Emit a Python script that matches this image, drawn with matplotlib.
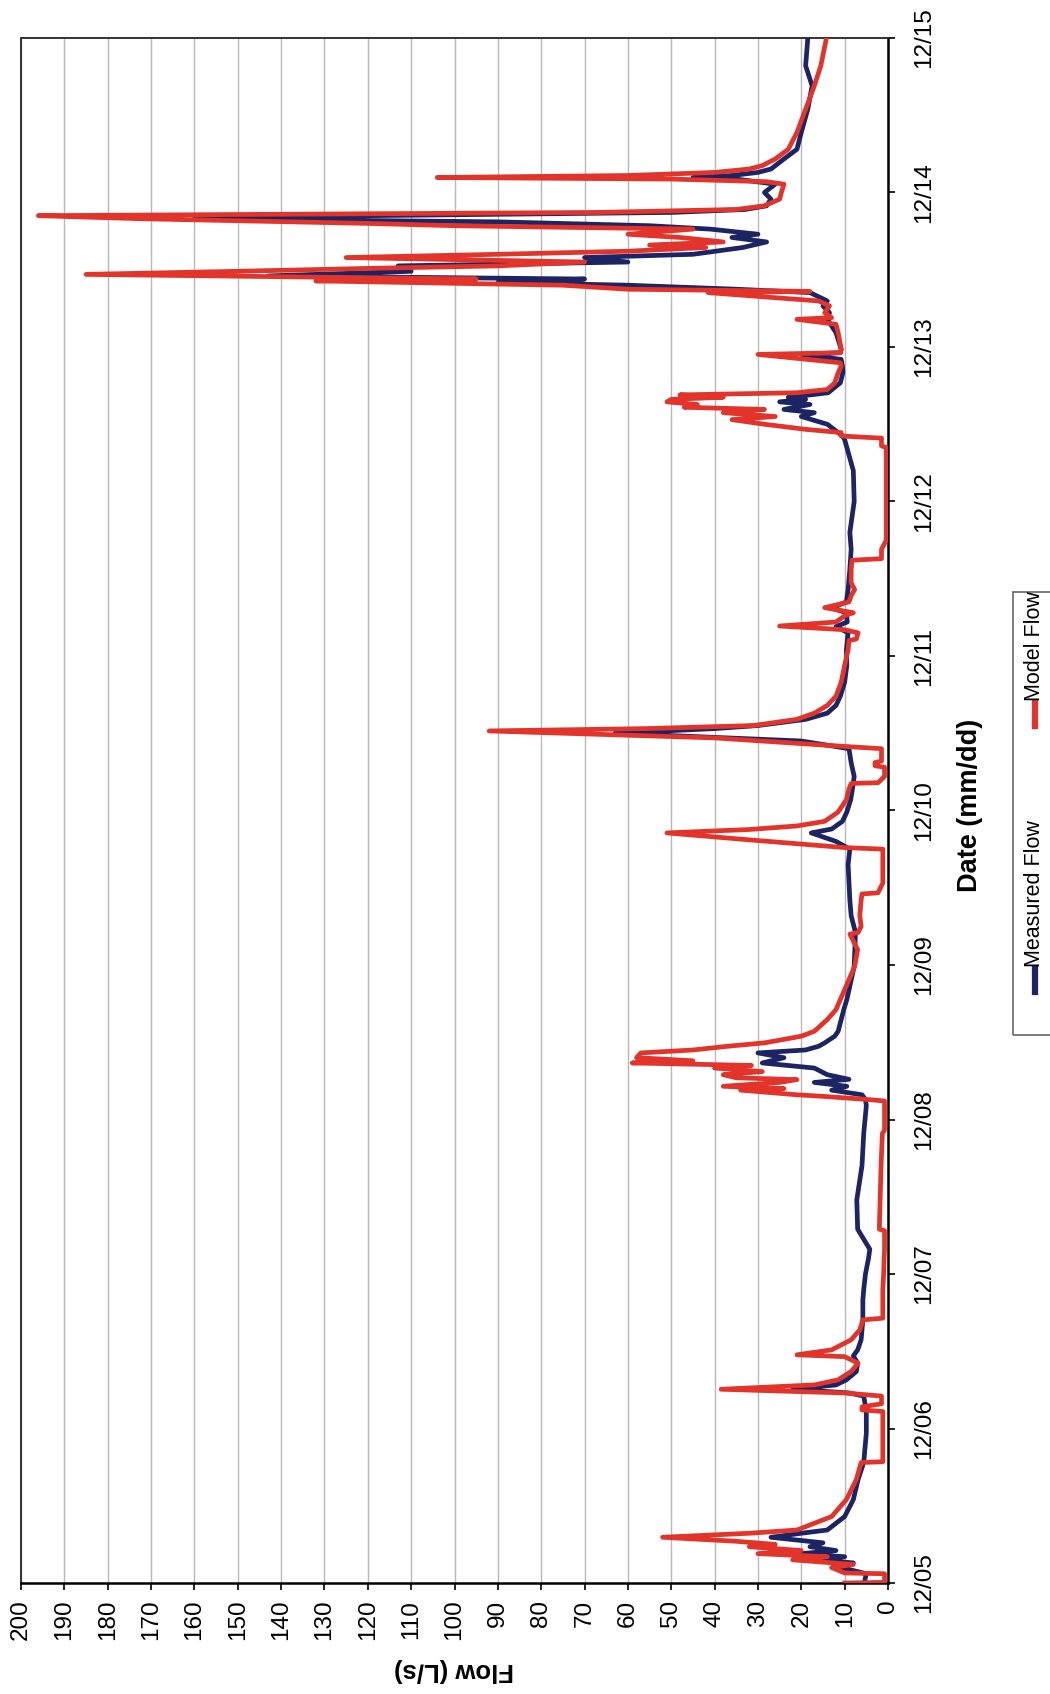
import matplotlib
matplotlib.use('Agg')
import matplotlib.pyplot as plt
from matplotlib.patches import Rectangle
from matplotlib.lines import Line2D

plt.rcParams['font.family'] = ['Liberation Sans', 'DejaVu Sans']

# time axis: days after 12/05 00:00
date_labels = ['12/05', '12/06', '12/07', '12/08', '12/09', '12/10',
               '12/11', '12/12', '12/13', '12/14', '12/15']
flow_ticks = list(range(0, 201, 10))

# Measured Flow (L/s)
t_meas = [0.0, 0.06, 0.10, 0.13, 0.15, 0.17, 0.19, 0.21, 0.235, 0.26, 0.296, 0.322, 0.343, 0.43, 0.54, 0.67, 0.78, 0.97,
          1.11, 1.21, 1.23, 1.254, 1.282, 1.315, 1.369, 1.423, 1.47, 1.509, 1.574, 1.703, 1.833, 1.9,
          2.0, 2.1, 2.16, 2.29, 2.48, 2.70, 2.91,
          3.09, 3.13, 3.16, 3.19, 3.215, 3.24, 3.26, 3.29, 3.333, 3.366, 3.40, 3.431, 3.45, 3.474, 3.496, 3.539, 3.571,
          3.647, 3.711, 3.776, 3.99,
          4.21, 4.32, 4.42, 4.53, 4.65, 4.75, 4.80, 4.855, 4.88, 4.93, 4.99,
          5.07, 5.14, 5.22, 5.31, 5.40, 5.45, 5.50, 5.53, 5.55, 5.59, 5.63, 5.68, 5.74, 5.83, 5.94,
          6.04, 6.15, 6.19, 6.22, 6.28, 6.31, 6.35, 6.43, 6.56, 6.69, 6.8,
          7.0, 7.2, 7.40, 7.424, 7.446, 7.50, 7.55, 7.575, 7.596, 7.628, 7.645, 7.661, 7.675, 7.693, 7.704, 7.768,
          7.833, 7.876, 7.92, 7.952, 7.963, 7.985,
          8.093, 8.179, 8.222, 8.266, 8.298, 8.352, 8.374, 8.40, 8.417, 8.44, 8.46, 8.49, 8.525, 8.55, 8.579, 8.60,
          8.644, 8.68, 8.709, 8.73, 8.763, 8.785, 8.81, 8.83, 8.85, 8.871, 8.89, 8.914, 8.957,
          9.0, 9.054, 9.087, 9.097, 9.11, 9.13, 9.152, 9.217, 9.28, 9.389, 9.54, 9.69, 9.82, 10.0]
q_meas = [5.5, 5.0, 10.8, 8, 16, 10, 20, 12, 18, 15, 27, 20, 14, 10, 8, 6.9, 5.6, 5.0,
          5.0, 5.6, 9, 22, 12, 9.6, 7.3, 7, 8, 7, 6.2, 5.8, 5.8, 5.6,
          5.2, 4.5, 4.2, 7.0, 7.2, 6.0, 5.6,
          5.0, 5.2, 6, 13, 9.5, 17, 9, 14, 17, 29, 24, 30, 19, 16, 14.6, 12.3, 11.5,
          10.8, 10.2, 9.5, 7.8,
          7.5, 8.5, 8.8, 9.0, 9.2, 8.8, 12, 17.7, 13, 10.5, 9.5,
          8.6, 8.2, 7.8, 8.5, 9, 20, 63, 40, 30, 19, 14, 12, 11, 10, 9.5,
          9.6, 9.2, 12, 9.4, 9.6, 13, 9.6, 9.2, 8.8, 8.5, 8.8,
          7.8, 8.0, 10.0, 10.5, 11.5, 14, 20, 17, 24, 18, 25, 19, 23, 17, 13.8, 11,
          10.4, 10.5, 10.8, 20, 11, 10.8,
          12, 14, 13.5, 15, 14, 18, 35, 60, 90, 70, 143, 110, 113, 60, 70, 45,
          33.5, 28, 36, 30, 41, 55, 90, 160, 120, 50, 33, 28, 27,
          28.5, 26, 35, 45, 36, 30, 27, 24, 21, 20, 18.5, 17.5, 19, 18.5]

# Model Flow (L/s)
t_model = [0.0, 0.004, 0.06, 0.065, 0.10, 0.12, 0.15, 0.17, 0.19, 0.21, 0.235, 0.25, 0.27, 0.296, 0.322, 0.343, 0.43,
           0.54, 0.67, 0.78, 0.785, 0.97,
           1.11, 1.12, 1.14, 1.16, 1.21, 1.23, 1.254, 1.282, 1.315, 1.369, 1.423, 1.465, 1.477, 1.509, 1.574, 1.639,
           1.703, 1.714, 1.833, 1.90,
           2.0, 2.1, 2.16, 2.28, 2.29, 2.5, 2.7, 2.91, 2.93,
           3.12, 3.13, 3.15, 3.16, 3.19, 3.20, 3.215, 3.24, 3.258, 3.27, 3.29, 3.31, 3.333, 3.35, 3.366, 3.38, 3.40,
           3.431, 3.45, 3.474, 3.496, 3.539, 3.571, 3.647, 3.711, 3.776, 3.99,
           4.1, 4.2, 4.21, 4.25, 4.32, 4.42, 4.46, 4.467, 4.53, 4.75, 4.76, 4.81, 4.855, 4.877, 4.90, 4.93, 4.99,
           5.07, 5.14, 5.175, 5.18, 5.22, 5.28, 5.29, 5.31, 5.32, 5.40, 5.42, 5.47, 5.515, 5.53, 5.55, 5.59, 5.63,
           5.68, 5.74, 5.83, 5.94,
           6.04, 6.10, 6.11, 6.15, 6.17, 6.194, 6.22, 6.26, 6.28, 6.313, 6.35, 6.39, 6.43, 6.475, 6.56, 6.62, 6.63,
           6.69, 6.75,
           7.35, 7.36, 7.41, 7.424, 7.446, 7.467, 7.50, 7.53, 7.55, 7.575, 7.596, 7.61, 7.628, 7.645, 7.661, 7.675,
           7.69, 7.704, 7.725, 7.768, 7.833, 7.876, 7.898, 7.952, 7.963, 7.985,
           8.093, 8.147, 8.179, 8.19, 8.222, 8.266, 8.298, 8.352, 8.36, 8.374, 8.40, 8.417, 8.428, 8.44, 8.47, 8.49,
           8.51, 8.525, 8.55, 8.579, 8.60, 8.62, 8.644, 8.66, 8.68, 8.709, 8.73, 8.763, 8.785, 8.80, 8.83, 8.85,
           8.871, 8.89, 8.914, 8.957,
           9.0, 9.054, 9.07, 9.087, 9.097, 9.11, 9.13, 9.152, 9.174, 9.217, 9.28, 9.389, 9.54, 9.69, 9.82, 10.0]
q_model = [10, 0.8, 0.8, 10, 13, 8, 22, 14, 30, 20, 32, 26, 35, 52, 32, 21, 13,
           9.6, 7.3, 6.2, 1.2, 1.2,
           1.2, 6, 6, 1.5, 1.5, 10, 38.5, 17, 11.5, 8.5, 6.9, 10, 21, 13, 8.5, 6.5,
           5.8, 1.2, 1.2, 1.2,
           1.0, 0.9, 0.8, 0.8, 2.0, 1.8, 1.6, 1.3, 0.8,
           0.8, 5, 15, 21, 34, 24, 38, 25, 21, 35, 38, 29, 40, 31.5, 59, 45, 58,
           57, 45, 37, 28.5, 20, 17, 14, 12, 11, 7.7,
           7.0, 8.8, 6.9, 6.2, 6.5, 6.2, 6.0, 2.3, 1.2, 1.2, 10, 32, 51, 32, 21, 14.6, 11.5,
           9.6, 9.0, 8.5, 2.3, 0.8, 0.8, 3.0, 3.0, 1.5, 1.5, 13, 40, 92, 56, 31, 21, 17,
           14, 12, 10.8, 10,
           9.2, 9.0, 7.3, 6.9, 10, 25, 12, 10, 8, 14.6, 9, 8.5, 7.7, 8.5, 8.5, 8.3, 1.5,
           1.5, 0.4,
           0.4, 1.5, 1.5, 10.8, 10.8, 19, 28.5, 36, 26, 38, 28.5, 47, 44, 51, 50, 38,
           48, 21, 14, 12.3, 11.5, 10.8, 11, 30, 11, 10.8,
           11.5, 12, 21, 13, 14.6, 13.5, 16, 41.5, 18, 60, 75, 110, 132, 95, 185, 150,
           118, 90, 70, 125, 90, 60, 42, 55, 38, 48, 60, 45, 100, 120, 172, 196,
           67, 35, 28.5, 25,
           24.6, 24, 28, 50, 104, 60, 40, 32, 29, 26, 23, 21, 19, 17, 15.5, 14.2]

W, H = 1050, 1694
fig = plt.figure(figsize=(W / 100, H / 100), dpi=100)


def fx(px):
    return px / W


def fy(py):
    return 1 - py / H


# chart is drawn turned on its side: flow runs right->left, dates bottom->top
ax = fig.add_axes([fx(21), fy(1583), fx(888) - fx(21), fy(38) - fy(1583)])
ax.plot(q_meas, t_meas, color='#1c2463', lw=3.4, solid_joinstyle='round', zorder=3)
ax.plot(q_model, t_model, color='#e2342b', lw=3.4, solid_joinstyle='round', zorder=4)

ax.set_xlim(200, 0)
ax.set_ylim(0, 10)
ax.set_xticks(flow_ticks)
ax.set_xticklabels([str(v) for v in flow_ticks], rotation=90, fontsize=17.5)
ax.set_yticks(range(len(date_labels)))
ax.set_yticklabels(date_labels, rotation=90, fontsize=17.5, va='center')
ax.yaxis.tick_right()
ax.tick_params(axis='x', direction='out', length=5, width=1.2, pad=7)
ax.tick_params(axis='y', direction='out', length=5, width=1.2, pad=13)
ax.grid(axis='x', color='#b8b8b8', lw=1.0)
ax.set_axisbelow(True)
for side in ['right', 'bottom']:
    ax.spines[side].set_linewidth(1.8)
    ax.spines[side].set_color('black')
for side in ['left', 'top']:
    ax.spines[side].set_linewidth(1.4)
    ax.spines[side].set_color('#333333')

# axis titles (rotated with the chart)
fig.text(fx(454), fy(1670), 'Flow (L/s)', rotation=180, fontsize=18.5, fontweight='bold',
         ha='center', va='center')
fig.text(fx(970), fy(805), 'Date (mm/dd)', rotation=90, fontsize=19.5, fontweight='bold',
         ha='center', va='center')

# legend box, drawn by hand because it is turned too
fig.add_artist(Rectangle((fx(1013), fy(1035)), fx(1070) - fx(1013), fy(592) - fy(1035),
                         transform=fig.transFigure, fill=False, edgecolor='#666666', lw=1.2))
fig.add_artist(Line2D([fx(1035), fx(1035)], [fy(992), fy(969)], transform=fig.transFigure,
                      color='#1c2463', lw=4.5))
fig.text(fx(1035), fy(967), 'Measured Flow', rotation=90, fontsize=15.5, ha='center', va='bottom')
fig.add_artist(Line2D([fx(1035), fx(1035)], [fy(726), fy(703)], transform=fig.transFigure,
                      color='#e2342b', lw=4.5))
fig.text(fx(1035), fy(701), 'Model Flow', rotation=90, fontsize=15.5, ha='center', va='bottom')

plt.savefig('out.png', dpi=100)
